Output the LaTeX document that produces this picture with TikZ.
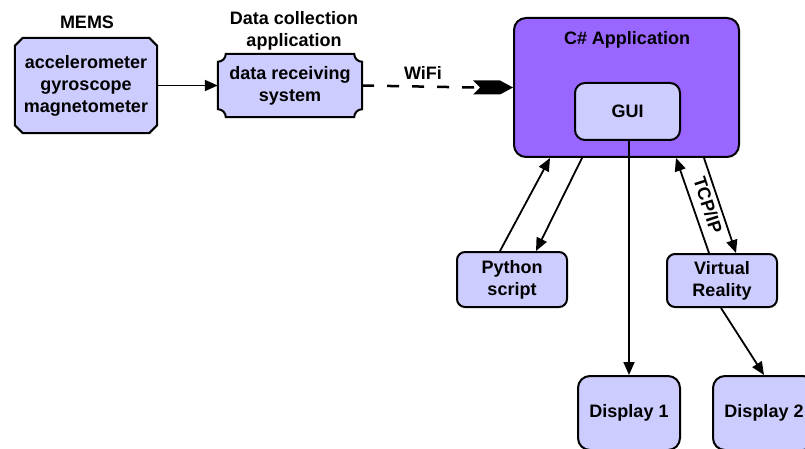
\documentclass[tikz,border=0pt]{standalone}
\usepackage{fontspec}
\setmainfont{Liberation Sans}
\usetikzlibrary{arrows.meta,calc,backgrounds}
\definecolor{lav}{HTML}{CCCCFF}
\definecolor{purp}{HTML}{9966FF}
\begin{document}
\begin{tikzpicture}[x=1pt,y=-1pt,
  txt/.style={font=\fontsize{18}{22}\selectfont\bfseries, align=center, inner sep=0pt},
  rbox/.style={txt, draw=black, line width=2pt, fill=lav, rounded corners=#1},
  rbox/.default=8pt,
  shapeline/.style={draw=black, line width=2pt, fill=lav},
  conn/.style={line width=1.8pt, -{Triangle[length=13pt,width=11pt]}}
]
\useasboundingbox (0,0) rectangle (805,449);
\clip (0,0) rectangle (805,449);

% MEMS
\node[txt, minimum width=142pt, minimum height=95pt] (mems) at (86,85.5) {accelerometer\\gyroscope\\magnetometer};
\node[txt] (memslab) at (87,22) {MEMS};
\begin{pgfonlayer}{background}
\path[shapeline] ([xshift=8pt]mems.north west) -- ([xshift=-8pt]mems.north east) -- ([yshift=-8pt]mems.north east)
  -- ([yshift=8pt]mems.south east) -- ([xshift=-8pt]mems.south east) -- ([xshift=8pt]mems.south west)
  -- ([yshift=8pt]mems.south west) -- ([yshift=-8pt]mems.north west) -- cycle;
\end{pgfonlayer}

% data receiving
\node[txt, minimum width=144pt, minimum height=63pt] (drs) at (290,85.5) {data receiving\\system};
\node[txt] (dclab) at (294,31) {Data collection\\application};
\begin{pgfonlayer}{background}
\path[shapeline] ([xshift=8pt]drs.north west) -- ([xshift=-8pt]drs.north east)
  arc[start angle=180,end angle=270,radius=8pt] -- ([yshift=8pt]drs.south east)
  arc[start angle=90,end angle=180,radius=8pt] -- ([xshift=8pt]drs.south west)
  arc[start angle=0,end angle=90,radius=8pt] -- ([yshift=-8pt]drs.north west)
  arc[start angle=270,end angle=360,radius=8pt] -- cycle;
\end{pgfonlayer}

% C# application
\node[draw=black, line width=2pt, fill=purp, rounded corners=12pt, minimum width=225pt, minimum height=139pt, inner sep=0pt] (app) at (626.5,87.5) {};
\draw[line width=2pt] ($(app.north west)+(0,-40)$) coordinate (hl) -- (hl -| app.east);
\node[txt] (apptitle) at (627,39.5) {C\# Application};
\node[rbox=10pt, minimum width=105pt, minimum height=57pt] (gui) at (627.5,111.5) {GUI};

% others
\node[rbox, minimum width=110pt, minimum height=55pt] (py) at (512,279.5) {Python\\script};
\node[rbox, minimum width=110pt, minimum height=53pt] (vr) at (722,280.5) {Virtual\\Reality};
\node[rbox=12pt, minimum width=102pt, minimum height=74pt] (d1) at (629,413) {Display 1};
\node[rbox=12pt, minimum width=102pt, minimum height=74pt] (d2) at (764,413) {Display 2};

% connectors
\draw[line width=1.8pt, -{Triangle[length=13pt,width=11pt]}] (mems.east) -- (drs.west);
\draw[line width=2.5pt, dash pattern=on 12pt off 13pt] (drs.east) -- ($(app.west)+(-38,0)$);
\fill ($(app.west)+(-40,-7)$) -- ($(app.west)+(-13,-7)$) -- (app.west) -- ($(app.west)+(-13,7)$)
  -- ($(app.west)+(-40,7)$) -- ($(app.west)+(-33,0)$) -- cycle;
\node[txt] (wifi) at (423,73) {WiFi};

\draw[conn] ($(py.north west)+(44,0)$) -- ($(app.south west)+(37,0)$);
\draw[conn] ($(app.south west)+(69,0)$) -- ($(py.north west)+(80,0)$);
\draw[conn] ($(vr.north west)+(43,0)$) -- ($(app.south west)+(163,0)$);
\draw[conn] ($(app.south west)+(191,0)$) -- ($(vr.north west)+(70,0)$);
\draw[conn] (gui.south -| d1.north) -- (d1.north);
\draw[conn] ($(vr.south west)+(55,0)$) -- ($(d2.north west)+(52,0)$);
\node[txt, rotate=-72] (tcp) at (708,205) {TCP/IP};
\end{tikzpicture}
\end{document}
